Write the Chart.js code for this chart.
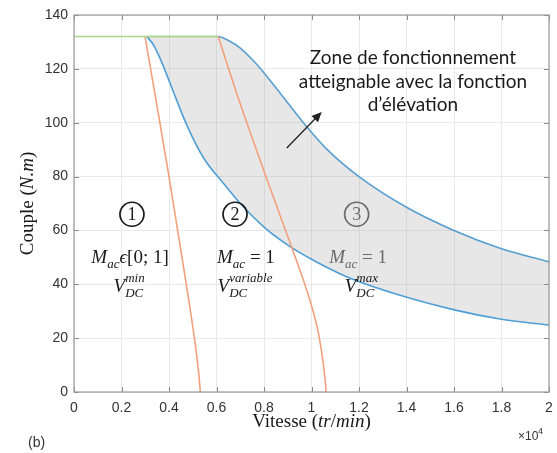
<!DOCTYPE html>
<html>
<head>
<meta charset="utf-8">
<script src="https://cdn.jsdelivr.net/npm/chart.js@4"></script>
<style>
  body { margin: 0; background: #fff; }
  canvas { display: block; }
</style>
</head>
<body>
<canvas id="torqueChart" width="557" height="453"></canvas>
<script>
// speeds are in x10^4 tr/min, torques in N.m
const flatSpeed = [0, 0.607];
const flatTorque = [132, 132];

const lowSpeed = [0.306, 0.33, 0.362, 0.418, 0.474, 0.545, 0.629, 0.70, 0.81, 0.91, 1.0, 1.148, 1.373, 1.597, 1.794, 2.0];
const lowTorque = [132, 129.5, 124, 111.6, 99.3, 87, 77.5, 70, 60.5, 54, 49.3, 42.8, 35.9, 30.6, 27.1, 24.8];

const highSpeed = [0.306, 0.607, 0.65, 0.70, 0.77, 0.85, 0.98, 1.064, 1.204, 1.40, 1.597, 1.794, 2.0];
const highTorque = [132, 132, 130.5, 127.7, 121.6, 113, 98.5, 90.2, 79.7, 68.6, 60.1, 53.4, 48.3];

const limit1Speed = [0.299, 0.35, 0.40, 0.44, 0.48, 0.51, 0.525, 0.532];
const limit1Torque = [132, 106, 80, 58, 36, 18, 7, 0];

const limit2Speed = [0.607, 0.70, 0.80, 0.87, 0.93, 0.99, 1.03, 1.052, 1.062];
const limit2Torque = [132, 107, 82, 65, 50.5, 35, 21.5, 9, 0];

const xTicks = [0, 0.2, 0.4, 0.6, 0.8, 1, 1.2, 1.4, 1.6, 1.8, 2];
const yTicks = [0, 20, 40, 60, 80, 100, 120, 140];

const zoneText = ["Zone de fonctionnement", "atteignable avec la fonction", "d\u2019\u00e9l\u00e9vation"];

const BLUE = "#4f9fd6";
const ORANGE = "#f2a07e";
const GREEN = "#a8d68a";
const serif = '"Liberation Serif", "DejaVu Serif", serif';
const sans = '"Liberation Sans", Arial, sans-serif';

function pts(xs, ys) {
    return xs.map((x, i) => ({ x: x, y: ys[i] }));
}

function runWidth(ctx, r) {
    if (r.sub !== undefined) {
        ctx.font = "italic 13px " + serif;
        return Math.max(ctx.measureText(r.sub).width, ctx.measureText(r.sup).width);
    }
    ctx.font = r.font;
    return ctx.measureText(r.t).width;
}

function drawRuns(ctx, runs, cx, baseY, color) {
    const total = runs.reduce((s, r) => s + runWidth(ctx, r), 0);
    let x = cx - total / 2;
    ctx.fillStyle = color;
    ctx.textAlign = "left";
    ctx.textBaseline = "alphabetic";
    runs.forEach(r => {
        const w = runWidth(ctx, r);
        if (r.sub !== undefined) {
            ctx.font = "italic 13px " + serif;
            ctx.fillText(r.sub, x, baseY + 5);
            ctx.fillText(r.sup, x, baseY - 10);
        } else {
            ctx.font = r.font;
            ctx.fillText(r.t, x, baseY + (r.dy || 0));
        }
        x += w;
    });
}

const it19 = "italic 19px " + serif;
const up19 = "19px " + serif;
const it13 = "italic 13px " + serif;

function macRuns(rest) {
    return [{ t: "M", font: it19 }, { t: "ac", font: it13, dy: 5 }].concat(rest);
}

const annotations = {
    id: "annotations",
    afterDatasetsDraw(chart) {
        const ctx = chart.ctx;
        const xs = chart.scales.x;
        const ys = chart.scales.y;
        const area = chart.chartArea;
        ctx.save();

        // inner tick marks + box
        ctx.strokeStyle = "#8a8a8a";
        ctx.lineWidth = 1;
        ctx.beginPath();
        xTicks.forEach(v => {
            const px = Math.round(xs.getPixelForValue(v)) + 0.5;
            ctx.moveTo(px, area.bottom); ctx.lineTo(px, area.bottom - 5);
            ctx.moveTo(px, area.top); ctx.lineTo(px, area.top + 5);
        });
        yTicks.forEach(v => {
            const py = Math.round(ys.getPixelForValue(v)) + 0.5;
            ctx.moveTo(area.left, py); ctx.lineTo(area.left + 5, py);
            ctx.moveTo(area.right, py); ctx.lineTo(area.right - 5, py);
        });
        ctx.stroke();
        ctx.strokeStyle = "#9a9a9a";
        ctx.lineWidth = 1.2;
        ctx.strokeRect(area.left, area.top, area.right - area.left, area.bottom - area.top);

        // zone text
        ctx.fillStyle = "#1a1a1a";
        ctx.font = "19px Lato, " + sans;
        ctx.textAlign = "center";
        ctx.textBaseline = "middle";
        const zx = xs.getPixelForValue(1.427);
        [124.0, 115.0, 106.5].forEach((v, i) => {
            ctx.fillText(zoneText[i], zx, ys.getPixelForValue(v));
        });

        // arrow
        const ax0 = xs.getPixelForValue(0.896), ay0 = ys.getPixelForValue(90.6);
        const ax1 = xs.getPixelForValue(1.043), ay1 = ys.getPixelForValue(104.0);
        const ang = Math.atan2(ay1 - ay0, ax1 - ax0);
        ctx.strokeStyle = "#222";
        ctx.lineWidth = 1.3;
        ctx.beginPath();
        ctx.moveTo(ax0, ay0);
        ctx.lineTo(ax1 - 6 * Math.cos(ang), ay1 - 6 * Math.sin(ang));
        ctx.stroke();
        ctx.fillStyle = "#222";
        ctx.beginPath();
        ctx.moveTo(ax1, ay1);
        ctx.lineTo(ax1 - 10 * Math.cos(ang) + 4.5 * Math.sin(ang), ay1 - 10 * Math.sin(ang) - 4.5 * Math.cos(ang));
        ctx.lineTo(ax1 - 10 * Math.cos(ang) - 4.5 * Math.sin(ang), ay1 - 10 * Math.sin(ang) + 4.5 * Math.cos(ang));
        ctx.closePath();
        ctx.fill();

        // circled region numbers
        [[0.244, "1", "#1a1a1a"], [0.678, "2", "#1a1a1a"], [1.19, "3", "#6a6a6a"]].forEach(c => {
            const cx = xs.getPixelForValue(c[0]);
            const cy = ys.getPixelForValue(66);
            ctx.strokeStyle = c[2];
            ctx.lineWidth = 1.7;
            ctx.beginPath();
            ctx.arc(cx, cy, 12, 0, Math.PI * 2);
            ctx.stroke();
            ctx.fillStyle = c[2];
            ctx.font = "18px " + serif;
            ctx.textAlign = "center";
            ctx.textBaseline = "middle";
            ctx.fillText(c[1], cx, cy + 1);
        });

        // math labels
        const mBase = ys.getPixelForValue(48);
        const vBase = ys.getPixelForValue(37.2);
        drawRuns(ctx, macRuns([{ t: "\u03F5", font: it19 }, { t: "[0; 1]", font: up19 }]),
            xs.getPixelForValue(0.236), mBase, "#1a1a1a");
        drawRuns(ctx, [{ t: "V", font: it19 }, { sub: "DC", sup: "min" }],
            xs.getPixelForValue(0.232), vBase, "#1a1a1a");
        drawRuns(ctx, macRuns([{ t: " = 1", font: up19 }]),
            xs.getPixelForValue(0.724), mBase, "#1a1a1a");
        drawRuns(ctx, [{ t: "V", font: it19 }, { sub: "DC", sup: "variable" }],
            xs.getPixelForValue(0.72), vBase, "#1a1a1a");
        drawRuns(ctx, macRuns([{ t: " = 1", font: up19 }]),
            xs.getPixelForValue(1.196), mBase, "#6a6a6a");
        drawRuns(ctx, [{ t: "V", font: it19 }, { sub: "DC", sup: "max" }],
            xs.getPixelForValue(1.21), vBase, "#1a1a1a");

        // axis titles
        drawRuns(ctx, [{ t: "Vitesse (", font: up19 }, { t: "tr", font: it19 }, { t: "/", font: up19 },
            { t: "min", font: it19 }, { t: ")", font: up19 }],
            (area.left + area.right) / 2, 427, "#1a1a1a");
        ctx.save();
        ctx.translate(27, (area.top + area.bottom) / 2);
        ctx.rotate(-Math.PI / 2);
        drawRuns(ctx, [{ t: "Couple (", font: up19 }, { t: "N.m", font: it19 }, { t: ")", font: up19 }],
            0, 6, "#1a1a1a");
        ctx.restore();

        // exponent and panel letter
        ctx.fillStyle = "#333";
        ctx.textAlign = "left";
        ctx.textBaseline = "alphabetic";
        ctx.font = "12px " + sans;
        ctx.fillText("\u00d710", 518, 440);
        ctx.font = "9px " + sans;
        ctx.fillText("4", 538, 434);
        ctx.font = "14px " + sans;
        ctx.fillText("(b)", 28, 447);
        ctx.restore();
    }
};

const lineBase = {
    borderWidth: 1.6,
    pointRadius: 0,
    fill: false,
    cubicInterpolationMode: "monotone"
};

new Chart(document.getElementById("torqueChart"), {
    type: "line",
    data: {
        datasets: [
            Object.assign({}, lineBase, { label: "Couple max", data: pts(flatSpeed, flatTorque), borderColor: GREEN }),
            Object.assign({}, lineBase, { label: "Limite 1", data: pts(limit1Speed, limit1Torque), borderColor: ORANGE }),
            Object.assign({}, lineBase, { label: "Limite 2", data: pts(limit2Speed, limit2Torque), borderColor: ORANGE }),
            Object.assign({}, lineBase, {
                label: "VDC min",
                data: pts(lowSpeed, lowTorque),
                borderColor: BLUE,
                fill: { target: 4 },
                backgroundColor: "rgba(160,160,160,0.25)"
            }),
            Object.assign({}, lineBase, {
                label: "VDC max",
                data: pts(highSpeed, highTorque),
                borderColor: BLUE,
                segment: {
                    borderColor: c => (c.p1.parsed.x <= 0.61 ? GREEN : BLUE)
                }
            })
        ]
    },
    options: {
        responsive: false,
        animation: false,
        events: [],
        layout: { padding: { top: 15, right: 8, left: 0, bottom: 0 } },
        plugins: {
            legend: { display: false },
            tooltip: { enabled: false }
        },
        scales: {
            x: {
                type: "linear",
                min: 0,
                max: 2,
                afterBuildTicks: s => { s.ticks = xTicks.map(v => ({ value: v })); },
                afterFit: s => { s.height = 61; s.paddingLeft = 0; s.paddingRight = 0; },
                grid: { color: "#e9e9e9", drawTicks: false },
                border: { display: false },
                ticks: {
                    padding: 8,
                    color: "#333",
                    font: { family: sans, size: 14 },
                    maxRotation: 0,
                    callback: v => String(v)
                }
            },
            y: {
                type: "linear",
                min: 0,
                max: 140,
                afterBuildTicks: s => { s.ticks = yTicks.map(v => ({ value: v })); },
                afterFit: s => { s.width = 74; s.paddingTop = 0; s.paddingBottom = 0; },
                grid: { color: "#e9e9e9", drawTicks: false },
                border: { display: false },
                ticks: {
                    padding: 6,
                    color: "#333",
                    font: { family: sans, size: 14 },
                    callback: v => String(v)
                }
            }
        }
    },
    plugins: [annotations]
});
</script>
</body>
</html>
